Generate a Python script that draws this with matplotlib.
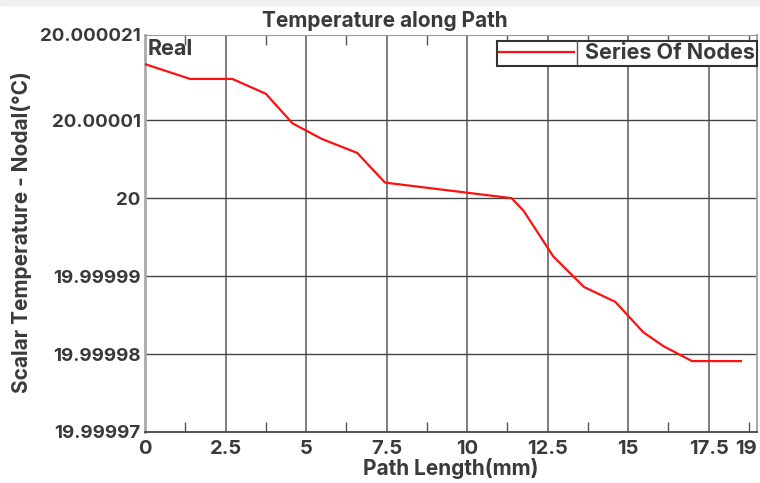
import matplotlib
matplotlib.use('agg')
import matplotlib.pyplot as plt
from matplotlib.lines import Line2D
from matplotlib.patches import Rectangle

# path length (mm) and nodal temperature (degC)
path_mm = [0, 1.40, 2.71, 3.75, 4.58, 5.49, 6.59, 7.45, 11.38, 11.75,
           12.68, 13.63, 14.60, 15.47, 16.10, 16.98, 18.50]
temp_c = [20.0000172, 20.0000153, 20.0000153, 20.0000134, 20.0000096,
          20.0000076, 20.0000058, 20.0000020, 20.0000000, 19.9999984,
          19.9999925, 19.9999886, 19.9999867, 19.9999828, 19.9999810,
          19.9999791, 19.9999791]

x_ticks = [0, 2.5, 5, 7.5, 10, 12.5, 15, 17.5]
x_labels = ['0', '2.5', '5', '7.5', '10', '12.5', '15', '17.5']
y_ticks = [19.99997, 19.99998, 19.99999, 20.0, 20.00001, 20.000021]
y_labels = ['19.99997', '19.99998', '19.99999', '20', '20.00001', '20.000021']
x_max = 19.0

txt = '#3a3a3a'
plt.rcParams['font.family'] = ['Inter', 'DejaVu Sans']
plt.rcParams['font.weight'] = 'bold'
fs = 13.5

fig = plt.figure(figsize=(7.6, 4.83), dpi=100)
fig.patches.append(Rectangle((0, 1 - 5 / 483), 1, 5 / 483, transform=fig.transFigure,
                             color='#efefef', zorder=0))
ax = fig.add_axes([145 / 760, 51 / 483, 612 / 760, 397.5 / 483])

ax.plot(path_mm, temp_c, color='#ff1010', lw=1.6, label='Series Of Nodes', zorder=3)

ax.set_xlim(0, x_max)
ax.set_ylim(y_ticks[0], y_ticks[-1])
ax.set_xticks(x_ticks + [x_max])
ax.set_xticklabels(x_labels + ['19'])
ax.set_yticks(y_ticks)
ax.set_yticklabels(y_labels)
ax.get_xticklabels()[-1].set_horizontalalignment('right')
ax.set_xticks([1.25 + 2.5 * i for i in range(8)], minor=True)

ax.tick_params(axis='both', which='major', length=0, labelsize=fs, labelcolor=txt, pad=3)
ax.tick_params(axis='x', which='minor', direction='in', length=7, width=1,
               color='#555', top=True, bottom=True)
ax.tick_params(axis='x', which='major', pad=6, labelsize=14.5)

for v in x_ticks[1:]:
    ax.axvline(v, color='#666', lw=1.2, zorder=1)
for v in y_ticks[1:-1]:
    ax.axhline(v, color='#444', lw=1.0, zorder=1)

ax.spines['left'].set_color('#aaa')
ax.spines['left'].set_linewidth(2)
ax.spines['right'].set_color('#aaa')
ax.spines['right'].set_linewidth(1.5)
ax.spines['top'].set_color('#999')
ax.spines['bottom'].set_color('#444')
ax.spines['bottom'].set_linewidth(1.3)

ax.text(0.004, 0.988, 'Real', transform=ax.transAxes, va='top', ha='left',
        fontsize=15.5, color=txt)

fig.text(385 / 760, 1 - 21 / 483, 'Temperature along Path', ha='center', va='center',
         fontsize=15, color=txt)
ax.set_xlabel('Path Length(mm)', fontsize=15, fontweight='bold', color=txt, labelpad=0)
fig.text(22 / 760, 1 - 232.5 / 483, 'Scalar Temperature - Nodal(°C)',
         rotation=90, ha='center', va='center', fontsize=15, color=txt)

leg = ax.legend(loc='upper right', bbox_to_anchor=(1.0, 0.983), fancybox=False,
                edgecolor='#333', fontsize=15.5, handlelength=3.5, borderpad=0.1,
                handletextpad=0.5, borderaxespad=0.0, labelcolor=txt)
leg.get_frame().set_linewidth(1.5)
leg.get_frame().set_alpha(1)
fig.lines.append(Line2D([577 / 760, 577 / 760], [1 - 41 / 483, 1 - 64 / 483],
                        transform=fig.transFigure, color='#555', lw=1))

plt.savefig('out.png', dpi=100)
